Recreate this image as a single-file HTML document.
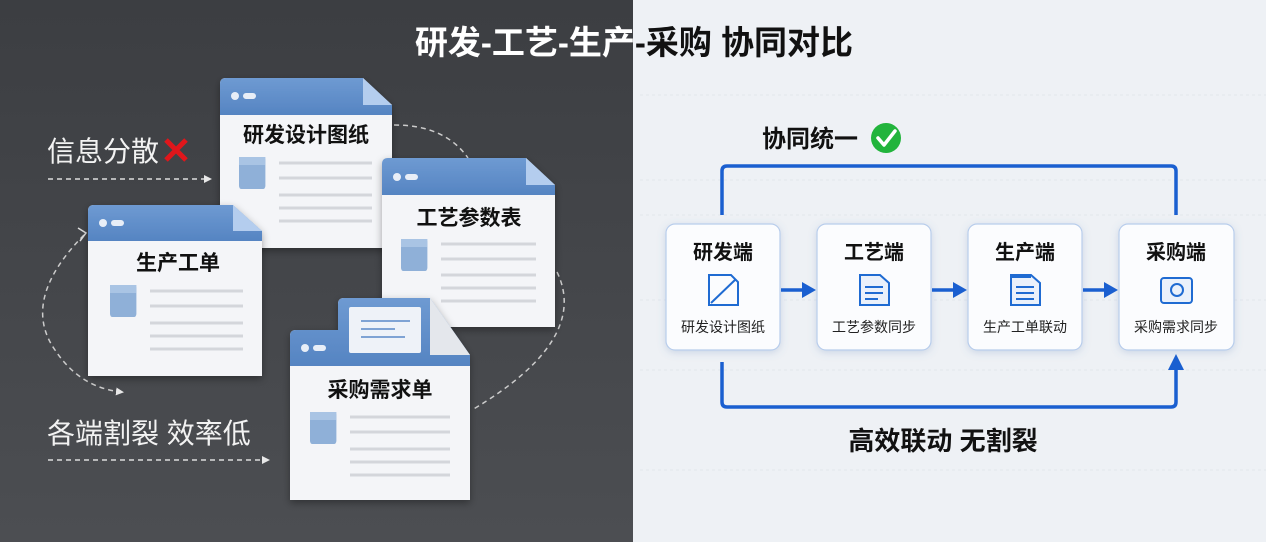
<!DOCTYPE html>
<html><head><meta charset="utf-8"><style>
html,body{margin:0;padding:0;width:1266px;height:542px;overflow:hidden}
svg text{font-family:"Liberation Sans","Noto Sans CJK SC",sans-serif;font-weight:bold}
svg text.n{font-weight:normal}
</style></head><body>
<svg width="1266" height="542" viewBox="0 0 1266 542" xmlns="http://www.w3.org/2000/svg">
<defs>
<linearGradient id="dk" x1="0" y1="0" x2="0" y2="1"><stop offset="0" stop-color="#3c3e42"/><stop offset="1" stop-color="#4c4e52"/></linearGradient>
<linearGradient id="hd" x1="0" y1="0" x2="0" y2="1"><stop offset="0" stop-color="#6e9ad2"/><stop offset="1" stop-color="#5584c2"/></linearGradient>
<filter id="sh" x="-20%" y="-20%" width="140%" height="140%"><feDropShadow dx="0" dy="3" stdDeviation="4" flood-color="#000" flood-opacity="0.35"/></filter>
<filter id="sh2" x="-20%" y="-20%" width="140%" height="140%"><feDropShadow dx="0" dy="2" stdDeviation="4" flood-color="#5a7fb8" flood-opacity="0.25"/></filter>
<clipPath id="cl"><rect x="0" y="0" width="633" height="542"/></clipPath>
<clipPath id="cr"><rect x="633" y="0" width="633" height="542"/></clipPath>
<marker id="wa" markerWidth="8" markerHeight="8" refX="6" refY="4" orient="auto" markerUnits="userSpaceOnUse"><path d="M0,0 L8,4 L0,8 Z" fill="#e8e8e8"/></marker>
<g id="lines">
<rect x="0" y="0" width="22" height="20" rx="2" fill="#8fb0d8"/>
<rect x="0" y="0" width="22" height="5" fill="#a9c4e4"/>
</g>
</defs>
<rect width="633" height="542" fill="url(#dk)"/>
<rect x="633" width="633" height="542" fill="#eef1f5"/>
<g stroke="#e2e6ec" stroke-width="1" stroke-dasharray="3 3">
<line x1="640" y1="95" x2="1266" y2="95"/><line x1="640" y1="180" x2="1266" y2="180"/><line x1="640" y1="215" x2="1266" y2="215"/><line x1="640" y1="300" x2="1266" y2="300"/><line x1="640" y1="370" x2="1266" y2="370"/><line x1="640" y1="470" x2="1266" y2="470"/>
</g>

<text x="634" y="54" font-size="33" text-anchor="middle" fill="#ffffff" clip-path="url(#cl)">研发-工艺-生产-采购 协同对比</text>
<text x="634" y="54" font-size="33" text-anchor="middle" fill="#111111" clip-path="url(#cr)">研发-工艺-生产-采购 协同对比</text>

<text class="n" x="47" y="161" font-size="28" fill="#f2f2f2">信息分散</text>
<path d="M166,140 L186,160 M186,140 L166,160" stroke="#e0161b" stroke-width="5"/>
<line x1="48" y1="179" x2="210" y2="179" stroke="#ddd" stroke-width="1.5" stroke-dasharray="5 4" marker-end="url(#wa)"/>
<text class="n" x="47" y="443" font-size="28" fill="#f2f2f2">各端割裂 效率低</text>
<line x1="48" y1="460" x2="268" y2="460" stroke="#ddd" stroke-width="1.5" stroke-dasharray="5 4" marker-end="url(#wa)"/>

<g fill="none" stroke="#ccc" stroke-width="1.5" stroke-dasharray="5 4">
<path d="M394,125 Q445,125 468,158"/>
<path d="M557,272 Q590,340 472,410"/>
<path d="M84,235 Q20,300 55,350 Q80,388 122,392" marker-end="url(#wa)"/>
</g>
<path d="M78,228 L86,233 L80,241" stroke="#ddd" stroke-width="1.5" fill="none"/>

<g filter="url(#sh)">
<path d="M220,84 Q220,78 226,78 L363,78 L392,105 L392,248 L220,248 Z" fill="#f4f5f8"/>
<path d="M220,84 Q220,78 226,78 L363,78 L392,105 L392,115 L220,115 Z" fill="url(#hd)"/>
<path d="M363,78 L363,105 L392,105 Z" fill="#b4cdee"/>
</g>
<circle cx="235" cy="96" r="4" fill="#e8eef7"/><rect x="243" y="93" width="13" height="6" rx="3" fill="#e8eef7"/>
<text x="306" y="142" font-size="21" text-anchor="middle" fill="#111">研发设计图纸</text>
<use href="#lines" transform="translate(239,157) scale(1.2,1.6)"/>
<g stroke="#d4d6db" stroke-width="3"><line x1="279" y1="163" x2="372" y2="163"/><line x1="279" y1="178" x2="372" y2="178"/><line x1="279" y1="195" x2="372" y2="195"/><line x1="279" y1="208" x2="372" y2="208"/><line x1="279" y1="221" x2="372" y2="221"/></g>

<g filter="url(#sh)">
<path d="M382,164 Q382,158 388,158 L526,158 L555,185 L555,327 L382,327 Z" fill="#f4f5f8"/>
<path d="M382,164 Q382,158 388,158 L526,158 L555,185 L555,195 L382,195 Z" fill="url(#hd)"/>
<path d="M526,158 L526,185 L555,185 Z" fill="#b4cdee"/>
</g>
<circle cx="397" cy="177" r="4" fill="#e8eef7"/><rect x="405" y="174" width="13" height="6" rx="3" fill="#e8eef7"/>
<text x="469" y="225" font-size="21" text-anchor="middle" fill="#111">工艺参数表</text>
<use href="#lines" transform="translate(401,239) scale(1.2,1.6)"/>
<g stroke="#d4d6db" stroke-width="3"><line x1="441" y1="244" x2="536" y2="244"/><line x1="441" y1="259" x2="536" y2="259"/><line x1="441" y1="275" x2="536" y2="275"/><line x1="441" y1="288" x2="536" y2="288"/><line x1="441" y1="301" x2="536" y2="301"/></g>

<g filter="url(#sh)">
<path d="M88,211 Q88,205 94,205 L233,205 L262,231 L262,376 L88,376 Z" fill="#f4f5f8"/>
<path d="M88,211 Q88,205 94,205 L233,205 L262,231 L262,241 L88,241 Z" fill="url(#hd)"/>
<path d="M233,205 L233,231 L262,231 Z" fill="#b4cdee"/>
</g>
<circle cx="103" cy="223" r="4" fill="#e8eef7"/><rect x="111" y="220" width="13" height="6" rx="3" fill="#e8eef7"/>
<text x="178" y="270" font-size="21" text-anchor="middle" fill="#111">生产工单</text>
<use href="#lines" transform="translate(110,285) scale(1.2,1.6)"/>
<g stroke="#d4d6db" stroke-width="3"><line x1="150" y1="291" x2="243" y2="291"/><line x1="150" y1="306" x2="243" y2="306"/><line x1="150" y1="323" x2="243" y2="323"/><line x1="150" y1="336" x2="243" y2="336"/><line x1="150" y1="349" x2="243" y2="349"/></g>

<g filter="url(#sh)">
<path d="M290,336 Q290,330 296,330 L338,330 L338,304 Q338,298 344,298 L430,298 L470,355 L470,500 L290,500 Z" fill="#f4f5f8"/>
<path d="M290,336 Q290,330 296,330 L338,330 L338,304 Q338,298 344,298 L430,298 L470,355 L470,366 L290,366 Z" fill="url(#hd)"/>
<path d="M430,298 L430,355 L470,355 Z" fill="#e4e7ec"/>
<rect x="349" y="307" width="72" height="46" rx="2" fill="#eef2f8"/>
</g>
<g stroke="#7fa3d4" stroke-width="2"><line x1="361" y1="321" x2="410" y2="321"/><line x1="361" y1="329" x2="395" y2="329"/><line x1="361" y1="337" x2="405" y2="337"/></g>
<circle cx="305" cy="348" r="4" fill="#e8eef7"/><rect x="313" y="345" width="13" height="6" rx="3" fill="#e8eef7"/>
<text x="380" y="397" font-size="21" text-anchor="middle" fill="#111">采购需求单</text>
<use href="#lines" transform="translate(310,412) scale(1.2,1.6)"/>
<g stroke="#d4d6db" stroke-width="3"><line x1="350" y1="417" x2="450" y2="417"/><line x1="350" y1="432" x2="450" y2="432"/><line x1="350" y1="449" x2="450" y2="449"/><line x1="350" y1="462" x2="450" y2="462"/><line x1="350" y1="475" x2="450" y2="475"/></g>

<text x="762" y="147" font-size="24" fill="#111">协同统一</text>
<circle cx="886" cy="138" r="15" fill="#22b43c"/>
<path d="M878,138 L884,145 L895,131" stroke="#fff" stroke-width="3.5" fill="none" stroke-linecap="round" stroke-linejoin="round"/>

<path d="M722,215 L722,171 Q722,166 727,166 L1171,166 Q1176,166 1176,171 L1176,215" fill="none" stroke="#1a5fd0" stroke-width="3.5"/>
<path d="M722,362 L722,402 Q722,407 727,407 L1171,407 Q1176,407 1176,402 L1176,362" fill="none" stroke="#1a5fd0" stroke-width="3.5"/>
<path d="M1176,354 L1168,370 L1184,370 Z" fill="#1a5fd0"/>

<g filter="url(#sh2)">
<rect x="666" y="224" width="114" height="126" rx="9" fill="#fbfcfe" stroke="#b8cdec" stroke-width="1.2"/>
<rect x="817" y="224" width="114" height="126" rx="9" fill="#fbfcfe" stroke="#b8cdec" stroke-width="1.2"/>
<rect x="968" y="224" width="114" height="126" rx="9" fill="#fbfcfe" stroke="#b8cdec" stroke-width="1.2"/>
<rect x="1119" y="224" width="115" height="126" rx="9" fill="#fbfcfe" stroke="#b8cdec" stroke-width="1.2"/>
</g>
<g stroke="#1a5fd0" stroke-width="3.5"><line x1="781" y1="290" x2="806" y2="290"/><line x1="932" y1="290" x2="957" y2="290"/><line x1="1083" y1="290" x2="1108" y2="290"/></g>
<path d="M802,282 L816,290 L802,298 Z" fill="#1a5fd0"/>
<path d="M953,282 L967,290 L953,298 Z" fill="#1a5fd0"/>
<path d="M1104,282 L1118,290 L1104,298 Z" fill="#1a5fd0"/>

<g font-size="20" text-anchor="middle" fill="#111">
<text x="723" y="259">研发端</text><text x="874" y="259">工艺端</text><text x="1025" y="259">生产端</text><text x="1176" y="259">采购端</text>
</g>
<g font-size="14" text-anchor="middle" fill="#222">
<text class="n" x="723" y="332">研发设计图纸</text><text class="n" x="874" y="332">工艺参数同步</text><text class="n" x="1025" y="332">生产工单联动</text><text class="n" x="1176" y="332">采购需求同步</text>
</g>
<g fill="none" stroke="#1f6bd2" stroke-width="2">
<path d="M709,275 L731,275 L738,282 L738,305 L709,305 Z"/><line x1="711" y1="303" x2="736" y2="279"/>
<path d="M860,275 L880,275 L889,283 L889,305 L860,305 Z" fill="#eaf1fb"/><line x1="865" y1="287" x2="883" y2="287"/><line x1="865" y1="293" x2="883" y2="293"/><line x1="865" y1="299" x2="878" y2="299"/>
<path d="M1011,275 L1031,275 L1040,283 L1040,305 L1011,305 Z" fill="#eaf1fb"/><line x1="1016" y1="287" x2="1034" y2="287"/><line x1="1016" y1="293" x2="1034" y2="293"/><line x1="1016" y1="299" x2="1034" y2="299"/>
<rect x="1161" y="278" width="31" height="25" rx="3" fill="#eaf1fb"/><circle cx="1177" cy="290" r="6"/>
</g>
<rect x="1011" y="275" width="20" height="3" fill="#1f6bd2"/>

<text x="943" y="450" font-size="26" text-anchor="middle" fill="#111">高效联动 无割裂</text>
</svg>
</body></html>
